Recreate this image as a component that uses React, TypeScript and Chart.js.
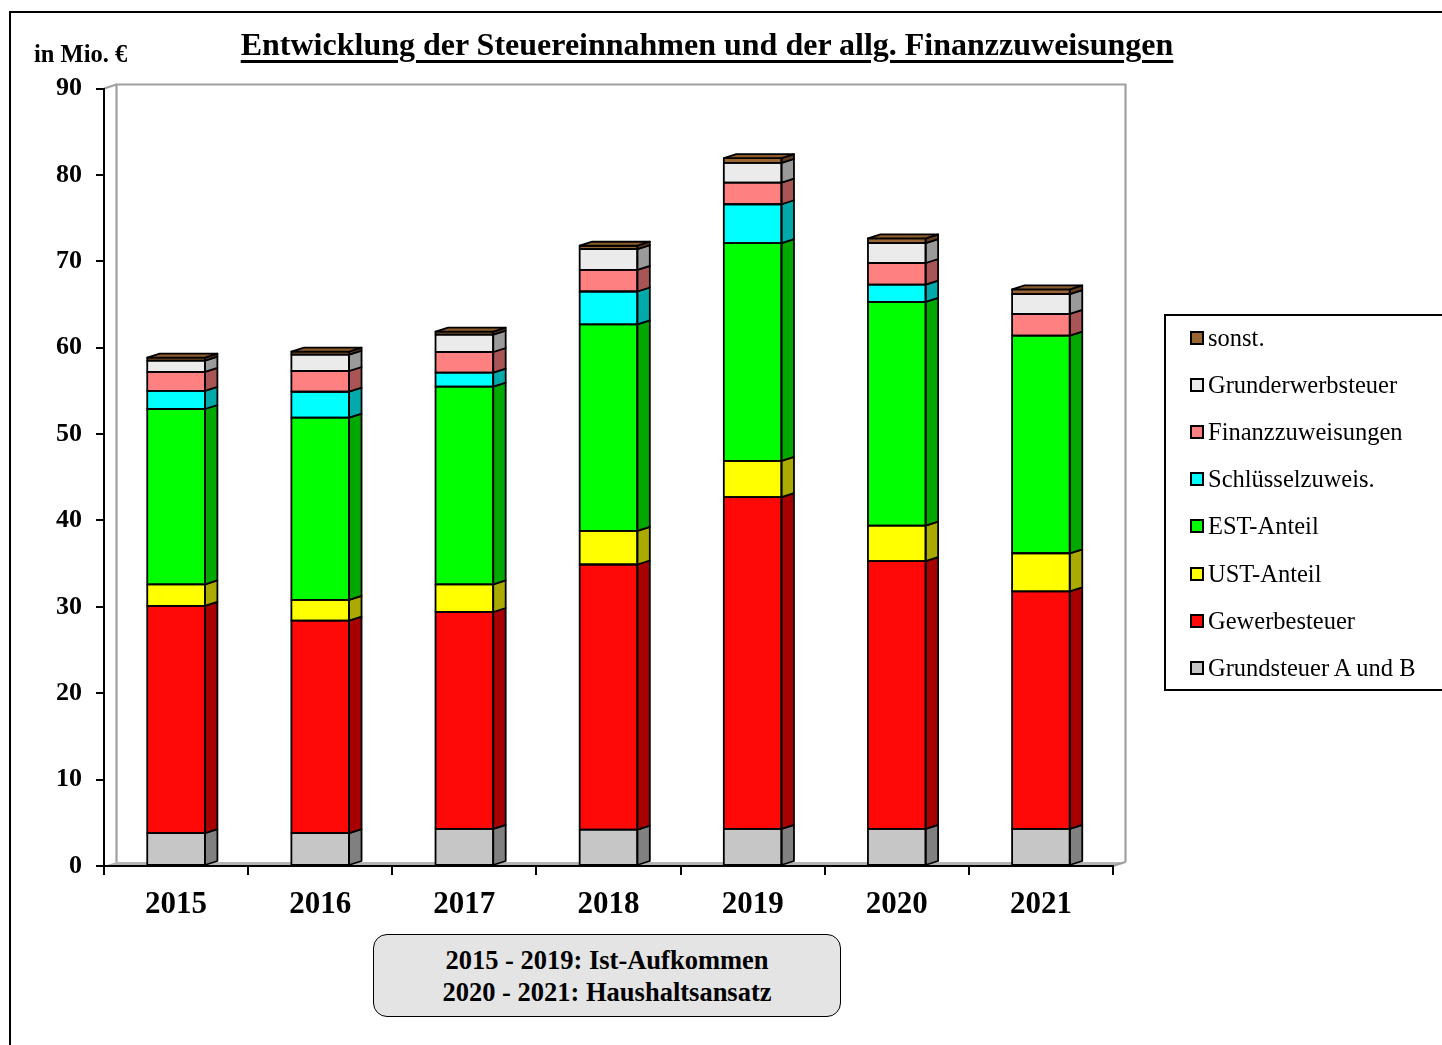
import React, { useEffect, useRef } from "react";
import { Chart, registerables } from "chart.js";

Chart.register(...registerables);

const categories = ["2015", "2016", "2017", "2018", "2019", "2020", "2021"];
const grundsteuer = [3.8, 3.8, 4.3, 4.2, 4.3, 4.3, 4.3];
const gewerbesteuer = [26.3, 24.6, 25.1, 30.7, 38.4, 31.0, 27.5];
const ustAnteil = [2.5, 2.4, 3.2, 3.9, 4.2, 4.1, 4.4];
const estAnteil = [20.3, 21.1, 22.9, 23.9, 25.2, 25.9, 25.2];
const schluesselzuweis = [2.1, 3.0, 1.6, 3.8, 4.5, 2.0, 0];
const finanzzuweisungen = [2.2, 2.4, 2.4, 2.5, 2.5, 2.5, 2.5];
const grunderwerbsteuer = [1.3, 1.9, 2.0, 2.4, 2.3, 2.3, 2.3];
const sonst = [0.35, 0.35, 0.35, 0.4, 0.55, 0.55, 0.55];
const yTicks = [0, 10, 20, 30, 40, 50, 60, 70, 80, 90];

const series = [
  { label: "Grundsteuer A und B", data: grundsteuer, color: "#c6c6c6", side: "#808080" },
  { label: "Gewerbesteuer", data: gewerbesteuer, color: "#ff0808", side: "#a80000" },
  { label: "UST-Anteil", data: ustAnteil, color: "#ffff00", side: "#aaaa00" },
  { label: "EST-Anteil", data: estAnteil, color: "#00ff00", side: "#00a800" },
  { label: "Schlüsselzuweis.", data: schluesselzuweis, color: "#00ffff", side: "#00aaaa" },
  { label: "Finanzzuweisungen", data: finanzzuweisungen, color: "#ff8080", side: "#aa5555" },
  { label: "Grunderwerbsteuer", data: grunderwerbsteuer, color: "#ebebeb", side: "#9a9a9a" },
  { label: "sonst.", data: sonst, color: "#996633", side: "#663d1a" },
];

const FONT = "'Liberation Serif', 'Times New Roman', serif";
const DX = 12.5;
const DY = 4;

const bar3d = {
  id: "bar3d",
  beforeDraw(chart: any) {
    const { ctx, chartArea } = chart;
    const { left, right, top, bottom } = chartArea;
    ctx.save();
    ctx.fillStyle = "#b4b4b4";
    ctx.beginPath();
    ctx.moveTo(left, bottom);
    ctx.lineTo(left + DX, bottom - DY);
    ctx.lineTo(right + DX, bottom - DY);
    ctx.lineTo(right, bottom);
    ctx.closePath();
    ctx.fill();
    ctx.strokeStyle = "#a0a0a0";
    ctx.lineWidth = 2.2;
    ctx.beginPath();
    ctx.moveTo(left + DX, bottom - DY);
    ctx.lineTo(left + DX, top - DY);
    ctx.lineTo(right + DX, top - DY);
    ctx.lineTo(right + DX, bottom - DY);
    ctx.stroke();
    ctx.beginPath();
    ctx.moveTo(left, top);
    ctx.lineTo(left + DX, top - DY);
    ctx.moveTo(right, bottom);
    ctx.lineTo(right + DX, bottom - DY);
    ctx.stroke();
    ctx.restore();
  },
  afterDatasetsDraw(chart: any) {
    const ctx = chart.ctx;
    ctx.save();
    ctx.lineWidth = 1.8;
    ctx.strokeStyle = "#000";
    ctx.lineJoin = "round";
    const nCat = chart.data.labels.length;
    for (let i = 0; i < nCat; i++) {
      let last: any = null;
      for (let d = 0; d < chart.data.datasets.length; d++) {
        const meta = chart.getDatasetMeta(d);
        const el = meta.data[i];
        if (!el) continue;
        const p = el.getProps(["x", "y", "base", "width"], true);
        const t = Math.min(p.y, p.base);
        const b = Math.max(p.y, p.base);
        if (b - t < 0.5) continue;
        const l = p.x - p.width / 2;
        const r = p.x + p.width / 2;
        ctx.fillStyle = series[d].side;
        ctx.beginPath();
        ctx.moveTo(r, b);
        ctx.lineTo(r + DX, b - DY);
        ctx.lineTo(r + DX, t - DY);
        ctx.lineTo(r, t);
        ctx.closePath();
        ctx.fill();
        ctx.stroke();
        ctx.strokeRect(l, t, r - l, b - t);
        last = { l, r, t, d };
      }
      if (last) {
        ctx.fillStyle = last.d === series.length - 1 ? "#8e5c2c" : series[last.d].color;
        ctx.beginPath();
        ctx.moveTo(last.l, last.t);
        ctx.lineTo(last.l + DX, last.t - DY);
        ctx.lineTo(last.r + DX, last.t - DY);
        ctx.lineTo(last.r, last.t);
        ctx.closePath();
        ctx.fill();
        ctx.stroke();
      }
    }
    ctx.restore();
  },
};

function ChartCanvas() {
  const ref = useRef<HTMLCanvasElement | null>(null);
  useEffect(() => {
    if (!ref.current) return;
    const chart = new Chart(ref.current, {
      type: "bar",
      data: {
        labels: categories,
        datasets: series.map((s) => ({
          label: s.label,
          data: s.data,
          backgroundColor: s.color,
          borderWidth: 0,
          categoryPercentage: 1,
          barPercentage: 0.4,
        })),
      },
      options: {
        animation: false,
        responsive: false,
        maintainAspectRatio: false,
        devicePixelRatio: 1,
        layout: { padding: { left: 0, right: 329, top: 88.5, bottom: 0 } },
        plugins: {
          legend: { display: false },
          title: { display: false },
          tooltip: { enabled: false },
        },
        scales: {
          x: {
            stacked: true,
            grid: { drawOnChartArea: false, drawTicks: true, tickLength: 9, color: "#000", lineWidth: 2 },
            border: { display: true, color: "#000", width: 2 },
            ticks: { color: "#000", font: { family: FONT, size: 31, weight: "bold" }, padding: 11 },
            afterFit: (s: any) => {
              s.height = 179;
            },
          },
          y: {
            stacked: true,
            min: 0,
            max: 90,
            afterBuildTicks: (s: any) => {
              s.ticks = yTicks.map((v) => ({ value: v }));
            },
            grid: { drawOnChartArea: false, drawTicks: true, tickLength: 8, color: "#000", lineWidth: 2 },
            border: { display: true, color: "#000", width: 2 },
            ticks: { color: "#000", font: { family: FONT, size: 26, weight: "bold" }, padding: 14 },
            afterFit: (s: any) => {
              s.width = 104;
            },
          },
        },
      },
      plugins: [bar3d],
    } as any);
    return () => chart.destroy();
  }, []);
  return (
    <canvas
      ref={ref}
      width={1442}
      height={1045}
      style={{ position: "absolute", left: 0, top: 0, width: 1442, height: 1045 }}
    />
  );
}

export default function App() {
  const legendItems = [...series].reverse();
  return (
    <div
      style={{
        position: "absolute",
        left: 0,
        top: 0,
        width: 1442,
        height: 1045,
        overflow: "hidden",
        background: "#fff",
        fontFamily: FONT,
        color: "#000",
      }}
    >
      <div
        style={{
          position: "absolute",
          left: 9,
          top: 11,
          width: 1500,
          height: 1100,
          borderLeft: "2.5px solid #000",
          borderTop: "2.5px solid #000",
        }}
      />
      <ChartCanvas />
      <div
        style={{
          position: "absolute",
          left: 707,
          top: 28,
          transform: "translateX(-50%)",
          whiteSpace: "nowrap",
          fontSize: 32,
          lineHeight: "32px",
          fontWeight: "bold",
          textDecoration: "underline",
          textDecorationThickness: "2.5px",
          textUnderlineOffset: "5px",
        }}
      >
        Entwicklung der Steuereinnahmen und der allg. Finanzzuweisungen
      </div>
      <div
        style={{
          position: "absolute",
          left: 34,
          top: 42,
          whiteSpace: "nowrap",
          fontSize: 24.5,
          lineHeight: "24px",
          fontWeight: "bold",
        }}
      >
        in Mio. €
      </div>
      <div
        style={{
          position: "absolute",
          left: 1164,
          top: 314,
          width: 320,
          height: 373,
          border: "2px solid #000",
        }}
      >
        {legendItems.map((s, k) => (
          <div
            key={s.label}
            style={{
              position: "absolute",
              left: 24,
              top: 24 - 2 + k * 47.1 - 14,
              height: 28,
              display: "flex",
              alignItems: "center",
              whiteSpace: "nowrap",
              fontSize: 24.5,
            }}
          >
            <span
              style={{
                display: "inline-block",
                width: 10,
                height: 10,
                border: "2px solid #000",
                background: s.color,
                marginRight: 4,
              }}
            />
            <span>{s.label}</span>
          </div>
        ))}
      </div>
      <div
        style={{
          position: "absolute",
          left: 373,
          top: 934,
          width: 466,
          height: 81,
          border: "1.5px solid #000",
          borderRadius: 14,
          background: "#e4e4e4",
          display: "flex",
          flexDirection: "column",
          alignItems: "center",
          justifyContent: "center",
          fontSize: 26.5,
          lineHeight: "32px",
          fontWeight: "bold",
          whiteSpace: "nowrap",
        }}
      >
        <div>2015 - 2019: Ist-Aufkommen</div>
        <div>2020 - 2021: Haushaltsansatz</div>
      </div>
    </div>
  );
}
